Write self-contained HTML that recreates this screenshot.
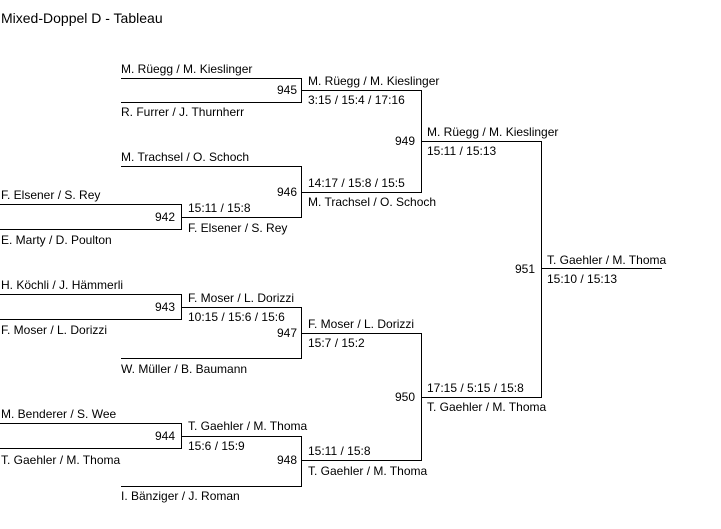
<!DOCTYPE html>
<html><head><meta charset="utf-8"><style>
body{margin:0;background:#fff;width:721px;height:529px;position:relative;overflow:hidden;font-family:"Liberation Sans",Arial,sans-serif;font-size:12px;color:#000}
.t{position:absolute;white-space:nowrap;line-height:14px}
.n{position:absolute;white-space:nowrap;line-height:14px;text-align:right;width:40px}
svg{position:absolute;left:0;top:0}
</style></head><body>
<svg width="721" height="529" shape-rendering="crispEdges" stroke="#000" stroke-width="1" fill="none">
<path d="M121 78.5H301.5M121 102.5H301.5M301.5 78V103M301.5 90.5H421.5"/>
<path d="M121 166.5H301.5M181 217.5H301.5M301.5 166V218M301.5 192.5H421.5"/>
<path d="M0 204.5H181.5M0 229.5H181.5M181.5 204V230"/>
<path d="M421.5 90V193M421.5 141.5H541.5"/>
<path d="M0 294.5H181.5M0 319.5H181.5M181.5 294V320M181.5 307.5H301.5"/>
<path d="M121 358.5H301.5M301.5 307V359M301.5 333.5H421.5"/>
<path d="M0 423.5H181.5M0 448.5H181.5M181.5 423V449M181.5 436.5H301.5"/>
<path d="M121 486.5H301.5M301.5 436V487M301.5 460.5H421.5"/>
<path d="M421.5 333V461M421.5 397.5H541.5"/>
<path d="M541.5 141V398M541.5 268.5H662"/>
</svg>
<div class="t" style="left:1px;top:11px;font-size:14px">Mixed-Doppel D - Tableau</div>

<div class="t" style="left:121px;top:62px">M. Rüegg / M. Kieslinger</div>
<div class="t" style="left:121px;top:105px">R. Furrer / J. Thurnherr</div>
<div class="n" style="left:257px;top:83px">945</div>
<div class="t" style="left:308px;top:74px">M. Rüegg / M. Kieslinger</div>
<div class="t" style="left:308px;top:93px">3:15 / 15:4 / 17:16</div>

<div class="t" style="left:121px;top:150px">M. Trachsel / O. Schoch</div>
<div class="n" style="left:257px;top:185px">946</div>
<div class="t" style="left:308px;top:176px">14:17 / 15:8 / 15:5</div>
<div class="t" style="left:308px;top:195px">M. Trachsel / O. Schoch</div>

<div class="t" style="left:1px;top:188px">F. Elsener / S. Rey</div>
<div class="t" style="left:1px;top:233px">E. Marty / D. Poulton</div>
<div class="n" style="left:135px;top:210px">942</div>
<div class="t" style="left:188px;top:201px">15:11 / 15:8</div>
<div class="t" style="left:188px;top:221px">F. Elsener / S. Rey</div>

<div class="n" style="left:375px;top:134px">949</div>
<div class="t" style="left:427px;top:125px">M. Rüegg / M. Kieslinger</div>
<div class="t" style="left:427px;top:144px">15:11 / 15:13</div>

<div class="n" style="left:495px;top:262px">951</div>
<div class="t" style="left:547px;top:253px">T. Gaehler / M. Thoma</div>
<div class="t" style="left:547px;top:272px">15:10 / 15:13</div>

<div class="t" style="left:1px;top:278px">H. Köchli / J. Hämmerli</div>
<div class="t" style="left:1px;top:323px">F. Moser / L. Dorizzi</div>
<div class="n" style="left:135px;top:300px">943</div>
<div class="t" style="left:188px;top:291px">F. Moser / L. Dorizzi</div>
<div class="t" style="left:188px;top:310px">10:15 / 15:6 / 15:6</div>

<div class="n" style="left:257px;top:326px">947</div>
<div class="t" style="left:121px;top:362px">W. Müller / B. Baumann</div>
<div class="t" style="left:308px;top:317px">F. Moser / L. Dorizzi</div>
<div class="t" style="left:308px;top:336px">15:7 / 15:2</div>

<div class="t" style="left:1px;top:407px">M. Benderer / S. Wee</div>
<div class="t" style="left:1px;top:453px">T. Gaehler / M. Thoma</div>
<div class="n" style="left:135px;top:429px">944</div>
<div class="t" style="left:188px;top:419px">T. Gaehler / M. Thoma</div>
<div class="t" style="left:188px;top:439px">15:6 / 15:9</div>

<div class="n" style="left:257px;top:453px">948</div>
<div class="t" style="left:121px;top:489px">I. Bänziger / J. Roman</div>
<div class="t" style="left:308px;top:444px">15:11 / 15:8</div>
<div class="t" style="left:308px;top:464px">T. Gaehler / M. Thoma</div>

<div class="n" style="left:375px;top:390px">950</div>
<div class="t" style="left:427px;top:381px">17:15 / 5:15 / 15:8</div>
<div class="t" style="left:427px;top:400px">T. Gaehler / M. Thoma</div>
</body></html>
